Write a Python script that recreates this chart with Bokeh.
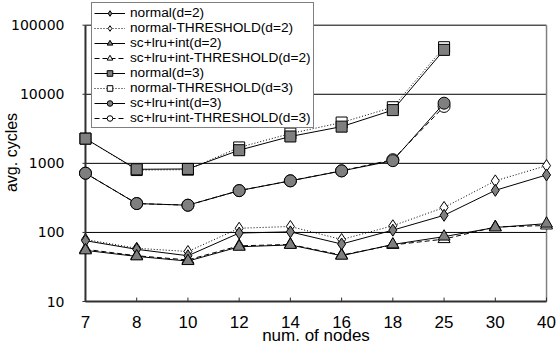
import math
from bokeh.plotting import figure
from bokeh.models import Range1d, FixedTicker, NumeralTickFormatter, Legend, LegendItem
from bokeh.embed import file_html
from bokeh.resources import INLINE

# ---------------- data ----------------
nodes = ["7", "8", "10", "12", "14", "16", "18", "25", "30", "40"]
y_ticks = [10, 100, 1000, 10000, 100000]

normal_d2 = [76, 57, 46, 98, 102, 68, 108, 177, 407, 680]
normal_th_d2 = [79, 59, 53, 115, 122, 79, 125, 230, 558, 927]
sc_d2 = [55, 45, 38.5, 62, 66, 46, 67, 87, 118, 134]
sc_th_d2 = [57, 46, 40, 64, 67, 47, 66, 80, 120, 126]
normal_d3 = [2280, 820, 830, 1550, 2450, 3400, 5900, 43900]
normal_th_d3 = [2280, 800, 810, 1700, 2700, 3900, 6500, 48000]
sc_d3 = [720, 262, 248, 403, 558, 777, 1094, 7430]
sc_th_d3 = [720, 262, 248, 403, 560, 780, 1130, 6670]

labels = ["normal(d=2)", "normal-THRESHOLD(d=2)", "sc+lru+int(d=2)",
          "sc+lru+int-THRESHOLD(d=2)", "normal(d=3)", "normal-THRESHOLD(d=3)",
          "sc+lru+int(d=3)", "sc+lru+int-THRESHOLD(d=3)"]
series = [normal_d2, normal_th_d2, sc_d2, sc_th_d2,
          normal_d3, normal_th_d3, sc_d3, sc_th_d3]

# ---------------- styles ----------------
GRAY = "#7f7f7f"
markers = ["diamond", "diamond", "triangle", "triangle",
           "square", "square", "circle", "circle"]
fills = [GRAY, "white", GRAY, "white", GRAY, "white", GRAY, "white"]
dashes = ["solid", "1 2", "solid", "5 3", "solid", "1 2", "solid", "5 3"]
sizes = {"diamond": 12, "triangle": 12, "square": 11, "circle": 12}

# layout (pixels)
W, H = 558, 347
frame_l, frame_r = 76, 553          # frame incl. padding
area_l, area_r = 83, 546            # data area 7..40
frame_t, frame_b = 0, 308           # frame reaches the top so the legend is not clipped
area_t, area_b = 25, 305

n = len(nodes)
unit = (area_r - area_l) / (n - 1)
pad_x = (area_l - frame_l) / unit
dec = (area_b - area_t) / (math.log10(y_ticks[-1]) - math.log10(y_ticks[0]))
pad_top = (area_t - frame_t) / dec
pad_bot = (frame_b - area_b) / dec

p = figure(width=W, height=H,
           x_range=Range1d(-pad_x, (n - 1) + pad_x),
           y_range=Range1d(10 ** (math.log10(y_ticks[0]) - pad_bot),
                           10 ** (math.log10(y_ticks[-1]) + pad_top)),
           y_axis_type="log", output_backend="svg", toolbar_location=None,
           min_border_left=frame_l, min_border_right=W - frame_r,
           min_border_top=frame_t, min_border_bottom=H - frame_b)
p.grid.visible = False
p.outline_line_color = None
p.background_fill_color = "white"
p.border_fill_color = "white"

# axes (labels only; lines drawn as glyphs)
xa = p.xaxis[0]
xa.ticker = FixedTicker(ticks=list(range(n)))
xa.major_label_overrides = {i: s for i, s in enumerate(nodes)}
xa.axis_line_color = None
xa.major_tick_line_color = None
xa.minor_tick_line_color = None
xa.major_label_standoff = 5
xa.major_label_text_font = "Liberation Sans"
xa.major_label_text_font_size = "17px"
xa.major_label_text_color = "black"
xa.axis_label = "num. of nodes"
xa.axis_label_text_font = "Liberation Sans"
xa.axis_label_text_font_size = "17px"
xa.axis_label_text_font_style = "normal"
xa.axis_label_text_color = "black"
xa.axis_label_standoff = -5

ya = p.yaxis[0]
ya.ticker = FixedTicker(ticks=y_ticks)
ya.formatter = NumeralTickFormatter(format="0")
ya.axis_line_color = None
ya.major_tick_line_color = None
ya.minor_tick_line_color = None
ya.major_label_standoff = 8
ya.major_label_text_font = "DejaVu Sans"
ya.major_label_text_font_size = "14px"
ya.major_label_text_color = "black"
ya.axis_label = "avg. cycles"
ya.axis_label_text_font = "Liberation Sans"
ya.axis_label_text_font_size = "16px"
ya.axis_label_text_font_style = "normal"
ya.axis_label_text_color = "black"
ya.axis_label_standoff = -12

last = n - 1
# horizontal gridlines
p.segment(x0=[0] * (len(y_ticks) - 1), y0=y_ticks[1:], x1=[last] * (len(y_ticks) - 1),
          y1=y_ticks[1:], line_color="black", line_width=1)
# right border
p.segment(x0=[last], y0=[y_ticks[0]], x1=[last], y1=[y_ticks[-1]],
          line_color="#808080", line_width=1.5)
# x ticks (inward)
tick_in = 10 ** (math.log10(y_ticks[0]) + 4 / dec)
p.segment(x0=list(range(n)), y0=[y_ticks[0]] * n, x1=list(range(n)), y1=[tick_in] * n,
          line_color="#303030", line_width=1)
# y ticks (outward)
tick_out = -3 / unit
p.segment(x0=[tick_out] * len(y_ticks), y0=y_ticks, x1=[0] * len(y_ticks), y1=y_ticks,
          line_color="#303030", line_width=1)
# axis lines
p.segment(x0=[0, 0], y0=[y_ticks[0], y_ticks[0]], x1=[0, last], y1=[y_ticks[-1], y_ticks[0]],
          line_color="#303030", line_width=2)

# draw hollow (THRESHOLD) series first so that filled ones sit on top
renderers = {}
order = [i for i in range(len(series)) if fills[i] == "white"] + \
        [i for i in range(len(series)) if fills[i] != "white"]
for i in order:
    vals = series[i]
    xs = list(range(len(vals)))
    lr = p.line(xs, vals, line_color="black", line_width=1, line_dash=dashes[i])
    sr = p.scatter(xs, vals, marker=markers[i], size=sizes[markers[i]], fill_color=fills[i],
                   line_color="black", line_width=1)
    renderers[i] = [lr, sr]

items = [LegendItem(label=labels[i], renderers=renderers[i]) for i in range(len(series))]

legend = Legend(items=items, location=(13, 176),
                border_line_color="black", border_line_width=1,
                background_fill_color="white", background_fill_alpha=1,
                padding=2, spacing=-2, margin=0,
                label_height=14, glyph_height=14, glyph_width=31,
                label_standoff=5,
                label_text_font="Liberation Sans", label_text_font_size="13.7px",
                label_text_line_height=1.0,
                label_text_color="black")
p.add_layout(legend)

open("out.html", "w").write(file_html(p, INLINE))
